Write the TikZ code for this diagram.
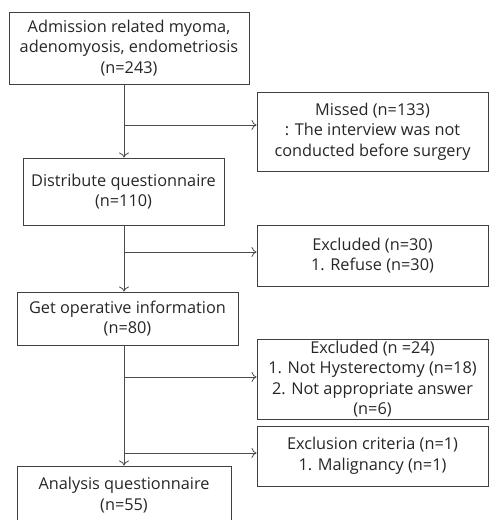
\documentclass[tikz,border=0pt]{standalone}
\usepackage{fontspec}
\setmainfont{Open Sans}
\usetikzlibrary{positioning,arrows.meta}

\begin{document}
\begin{tikzpicture}[x=1pt,y=-1pt,
    box/.style={draw=black!75, line width=0.9pt, align=center, inner sep=0pt,
      text=black!85, font=\fontsize{16.3}{20.5}\selectfont},
    flow/.style={draw=black!70, line width=0.8pt, -{To[length=5pt,width=10pt]}}]
  \useasboundingbox (0,0) rectangle (489,520);

  % main column
  \node[box, minimum width=240, minimum height=72] (adm) at (129,48)
    {Admission related myoma,\\ adenomyosis, endometriosis\\ (n=243)};
  \node[box, minimum width=201, minimum height=67] (dist) at (123.5,191.5)
    {Distribute questionnaire\\ (n=110)};
  \node[box, minimum width=221, minimum height=53] (oper) at (127.5,318.5)
    {Get operative information\\ (n=80)};
  \node[box, minimum width=214, minimum height=58] (anal) at (124,495)
    {Analysis questionnaire\\ (n=55)};

  % side boxes
  \node[box, minimum width=231, minimum height=79] (missed) at (372.5,131.5)
    {Missed (n=133)\\ : The interview was not\\ conducted before surgery};
  \node[box, minimum width=231, minimum height=61] (excla) at (372.5,255.5)
    {Excluded (n=30)\\ 1. Refuse (n=30)};
  \node[box, minimum width=231, minimum height=80] (exclb) at (372.5,379)
    {Excluded (n =24)\\ 1. Not Hysterectomy (n=18)\\ 2. Not appropriate answer\\ (n=6)};
  \node[box, minimum width=231, minimum height=60] (exclc) at (372.5,456)
    {Exclusion criteria (n=1)\\ 1. Malignancy (n=1)};

  \coordinate (spine) at (124,0);

  \draw[flow] (spine |- adm.south) -- (spine |- dist.north);
  \draw[flow] (spine |- dist.south) -- (spine |- oper.north);
  \draw[flow] (spine |- oper.south) -- (spine |- anal.north);

  \draw[flow] ([yshift=6.5pt]missed.west -| spine) -- ([yshift=6.5pt]missed.west);
  \draw[flow] ([yshift=3.5pt]excla.west -| spine) -- ([yshift=3.5pt]excla.west);
  \draw[flow] ([yshift=2pt]exclb.west -| spine) -- ([yshift=2pt]exclb.west);
  \draw[flow] ([yshift=3pt]exclc.west -| spine) -- ([yshift=3pt]exclc.west);
\end{tikzpicture}
\end{document}
